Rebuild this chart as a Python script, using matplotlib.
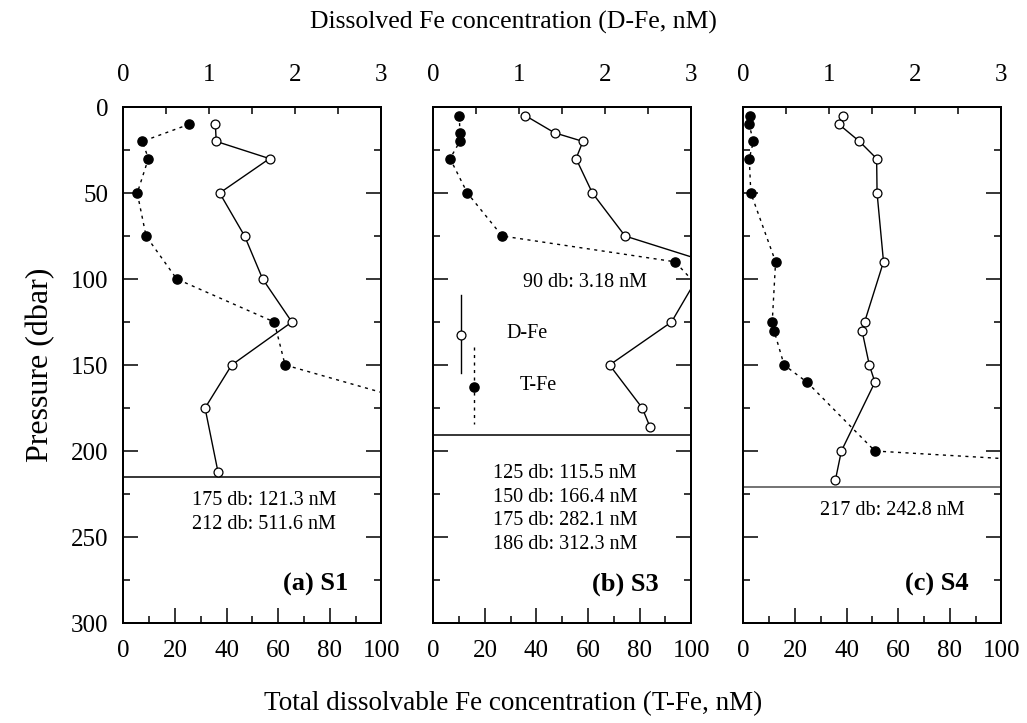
import numpy as np
import matplotlib
matplotlib.use("Agg")
import matplotlib.pyplot as plt
from matplotlib.ticker import MultipleLocator

plt.rcParams['font.family'] = ['Liberation Serif', 'DejaVu Serif']

# station data: pressure (dbar), D-Fe (nM), T-Fe (nM)
s1_p = [10, 20, 30, 50, 75, 100, 125, 150, 175, 212]
s1_dfe = [1.07, 1.08, 1.70, 1.12, 1.41, 1.62, 1.96, 1.26, 0.95, 1.10]
s1_tfe = [25.6, 7.4, 9.7, 5.4, 8.8, 20.7, 58.5, 62.7, 121.3, 511.6]
s1_bottom = 215

s3_p = [5, 15, 20, 30, 50, 75, 90, 125, 150, 175, 186]
s3_dfe = [1.07, 1.41, 1.74, 1.66, 1.85, 2.23, 3.18, 2.77, 2.05, 2.43, 2.52]
s3_tfe = [10.1, 10.3, 10.3, 6.5, 13.2, 26.7, 93.7, 115.5, 166.4, 282.1, 312.3]
s3_bottom = 190.5

s4_p = [5, 10, 20, 30, 50, 90, 125, 130, 150, 160, 200, 217]
s4_dfe = [1.16, 1.11, 1.35, 1.55, 1.555, 1.63, 1.41, 1.38, 1.465, 1.53, 1.14, 1.07]
s4_tfe = [2.6, 2.2, 3.9, 2.3, 2.9, 12.5, 11.2, 11.9, 15.8, 24.7, 51.0, 242.8]
s4_bottom = 221

labels = ['(a) S1', '(b) S3', '(c) S4']
notes = [['175 db: 121.3 nM', '212 db: 511.6 nM'],
         ['125 db: 115.5 nM', '150 db: 166.4 nM', '175 db: 282.1 nM', '186 db: 312.3 nM'],
         ['217 db: 242.8 nM']]

stations = [(s1_p, s1_dfe, s1_tfe, s1_bottom),
            (s3_p, s3_dfe, s3_tfe, s3_bottom),
            (s4_p, s4_dfe, s4_tfe, s4_bottom)]

fig = plt.figure(figsize=(10.27, 7.23), dpi=100)
lefts = [0.1201, 0.4219, 0.7238]
dot = (0, (2.2, 3.2))
sw = 1.4

for i, (p, dfe, tfe, bot) in enumerate(stations):
    ax = fig.add_axes([lefts[i], 0.1383, 0.2512, 0.7137])
    ax.set_xlim(0, 100)
    ax.set_ylim(300, 0)
    ax.plot(tfe, p, color='k', lw=1.0, ls=dot, marker='o', ms=6.6,
            mfc='k', mec='k', zorder=3)
    ax.axhline(bot, color='k' if i < 2 else '0.3', lw=1.1, zorder=2)

    ax.xaxis.set_major_locator(MultipleLocator(20))
    ax.xaxis.set_minor_locator(MultipleLocator(10))
    ax.yaxis.set_major_locator(MultipleLocator(50))
    ax.yaxis.set_minor_locator(MultipleLocator(25))
    ax.tick_params(which='both', direction='in', bottom=True, top=False,
                   left=True, right=True, width=1.1, labelsize=18)
    ax.tick_params(which='major', length=10.8)
    ax.tick_params(which='minor', length=5)
    ax.tick_params(axis='x', pad=12)
    ax.tick_params(axis='y', pad=11)
    if i > 0:
        ax.tick_params(axis='y', labelleft=False)
    for s in ax.spines.values():
        s.set_linewidth(sw)

    ax2 = ax.twiny()
    ax2.set_xlim(0, 3)
    ax2.plot(dfe, p, color='k', lw=1.0, marker='o', ms=6.4,
             mfc='white', mec='k', mew=0.9, zorder=4)
    ax2.xaxis.set_major_locator(MultipleLocator(1))
    ax2.xaxis.set_minor_locator(MultipleLocator(0.5))
    ax2.tick_params(which='both', direction='in', length=5, width=1.1,
                    labelsize=18, pad=15)
    for s in ax2.spines.values():
        s.set_linewidth(sw)

    ax.text(0.873, 0.075, labels[i], transform=ax.transAxes, ha='right',
            va='center', fontsize=19, fontweight='bold')

    if i == 0:
        ys = [0.238, 0.191]
        xs = 0.545
    elif i == 1:
        ys = [0.2895, 0.244, 0.198, 0.152]
        xs = 0.51
        ax.text(0.588, 0.66, '90 db: 3.18 nM', transform=ax.transAxes,
                ha='center', va='center', fontsize=14.5)
        # legend
        ax.plot([0.106, 0.106], [0.635, 0.484], transform=ax.transAxes,
                color='k', lw=1.0)
        ax.plot([0.106], [0.559], transform=ax.transAxes, marker='o', ms=6.4,
                mfc='white', mec='k', mew=0.9, color='k')
        ax.plot([0.158, 0.158], [0.535, 0.386], transform=ax.transAxes,
                color='k', lw=1.0, ls=dot)
        ax.plot([0.158], [0.457], transform=ax.transAxes, marker='o', ms=6.6,
                mfc='k', mec='k', color='k')
        ax.text(0.282, 0.561, 'D-Fe', transform=ax.transAxes, ha='left',
                va='center', fontsize=14.5)
        ax.text(0.336, 0.46, 'T-Fe', transform=ax.transAxes, ha='left',
                va='center', fontsize=14.5)
    else:
        ys = [0.218]
        xs = 0.579
    for txt, y in zip(notes[i], ys):
        ax.text(xs, y, txt, transform=ax.transAxes, ha='center',
                va='center', fontsize=14.5)

    if i == 0:
        ax.set_ylabel('Pressure (dbar)', fontsize=23, labelpad=11)

fig.text(0.5, 0.969, 'Dissolved Fe concentration (D-Fe, nM)', ha='center',
         va='center', fontsize=18.5)
fig.text(0.5, 0.027, 'Total dissolvable Fe concentration (T-Fe, nM)',
         ha='center', va='center', fontsize=19.5)

fig.savefig('out.png', dpi=100)
